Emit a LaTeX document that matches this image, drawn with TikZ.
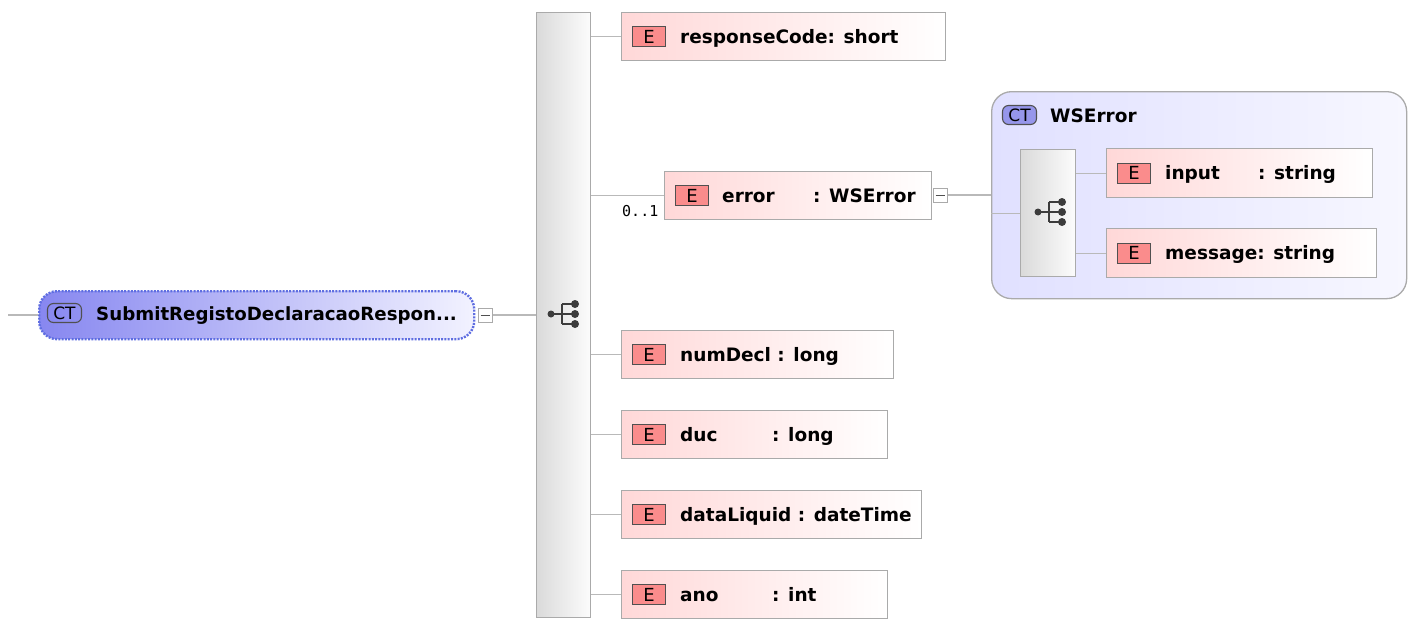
\documentclass[tikz,border=0pt]{standalone}
\usepackage{fontspec}
\setmainfont{DejaVu Sans}
\newfontfamily\monofont{DejaVu Sans Mono}

\definecolor{linegray}{RGB}{185,185,185}
\definecolor{boxgray}{RGB}{170,170,170}
\definecolor{pinkL}{RGB}{255,216,216}
\definecolor{iconred}{RGB}{250,140,140}
\definecolor{icondark}{RGB}{80,80,80}
\definecolor{rootL}{RGB}{135,135,240}
\definecolor{rootR}{RGB}{242,242,255}
\definecolor{rootedge}{RGB}{95,110,225}
\definecolor{ctL}{RGB}{224,224,255}
\definecolor{ctR}{RGB}{247,247,255}
\definecolor{ctblue}{RGB}{150,150,235}
\definecolor{seqL}{RGB}{218,218,218}
\definecolor{seqR}{RGB}{252,252,252}
\definecolor{dotgray}{RGB}{60,60,60}

\tikzset{
  conn/.style={draw=linegray, line width=1.2pt},
  elbox/.style={draw=boxgray, line width=1.3pt, left color=pinkL, right color=white,
                anchor=north west, inner sep=0, minimum height=48pt},
  eicon/.style={draw=icondark, fill=iconred, line width=1pt, minimum width=33pt,
                minimum height=20pt, inner sep=0, anchor=west, font=\fontsize{18}{18}\selectfont},
  lbl/.style={anchor=base west, inner sep=0, font=\fontsize{18.5}{20}\selectfont\bfseries},
  seqbar/.style={draw=boxgray, line width=1.3pt, left color=seqL, right color=seqR,
                 anchor=north west, inner sep=0},
  minusbox/.style={draw=boxgray, line width=1pt, fill=white, minimum size=14pt, inner sep=0},
  cticon/.style={rectangle, rounded corners=6pt, draw=icondark, line width=1.1pt,
                 minimum width=34pt, minimum height=19pt, inner sep=0,
                 font=\fontsize{17}{17}\selectfont},
  card/.style={font=\monofont\fontsize{15}{15}\selectfont, anchor=base west, inner sep=0}
}

% sequence compositor glyph round a named coordinate:
% one dot joined to a bracket holding three dots
\newcommand\seqglyph[1]{%
  \draw[dotgray, line width=1.4pt] ([xshift=-12pt]#1) -- ([xshift=-1pt]#1)
    ([xshift=-1pt,yshift=10pt]#1) -- ([xshift=-1pt,yshift=-10pt]#1)
    ([xshift=-1pt,yshift=10pt]#1) -- ([xshift=12pt,yshift=10pt]#1)
    ([xshift=-1pt,yshift=-10pt]#1) -- ([xshift=12pt,yshift=-10pt]#1)
    (#1) -- ([xshift=12pt]#1);
  \fill[dotgray] ([xshift=-12pt]#1) circle (3.5pt)
    ([xshift=12pt,yshift=10pt]#1) circle (4pt)
    ([xshift=12pt]#1) circle (4pt)
    ([xshift=12pt,yshift=-10pt]#1) circle (4pt);
}
\newcommand\minusmark[1]{%
  \draw[icondark, line width=0.8pt] ([xshift=3pt]#1.west) -- ([xshift=-3pt]#1.east);
}

\begin{document}
\begin{tikzpicture}[x=1pt, y=-1pt]
\useasboundingbox (0,0) rectangle (1410,619);

% ---- root complex type ----
\node[draw=rootedge, line width=2.4pt, dash pattern=on 2pt off 1.3pt,
      left color=rootL, right color=rootR, rounded corners=18pt,
      minimum width=435pt, minimum height=48pt, anchor=north west, inner sep=0]
      (root) at (38,290) {};
\coordinate (inlet) at (8,315);
\draw[conn] (inlet) -- (inlet -| root.west);
\node[cticon] (rootct) at (64.5,313) {CT};
\node[lbl, font=\fontsize{18.2}{20}\selectfont\bfseries] (roottxt) at (96,320) {SubmitRegistoDeclaracaoRespon...};
\node[minusbox] (rootmin) at (485,315) {};
\minusmark{rootmin}

% ---- sequence compositor ----
\node[seqbar, minimum width=54pt, minimum height=605pt] (seq) at (536,12) {};
\coordinate (seqg) at (563,314);
\seqglyph{seqg}
\draw[conn] (rootmin.east) -- (rootmin.east -| seq.west);

% ---- child elements ----
\node[elbox, minimum width=324pt] (rc) at (621,12) {};
\node[eicon] (rce) at ([xshift=11pt]rc.west) {E};
\node[lbl] (rct) at ([xshift=59pt,yshift=-6.5pt]rc.west) {responseCode: short};

\node[elbox, minimum width=267pt] (err) at (664,171) {};
\node[eicon] (erre) at ([xshift=11pt]err.west) {E};
\node[lbl] (errt) at ([xshift=58pt,yshift=-6.5pt]err.west) {error};
\node[lbl] (errty) at ([xshift=149pt,yshift=-6.5pt]err.west) {: WSError};
\node[card] (errcard) at (622,216) {0..1};
\node[minusbox] (errmin) at (940,195) {};
\minusmark{errmin}

\node[elbox, minimum width=272pt] (nd) at (621,330) {};
\node[eicon] (nde) at ([xshift=11pt]nd.west) {E};
\node[lbl] (ndt) at ([xshift=59pt,yshift=-6.5pt]nd.west) {numDecl : long};

\node[elbox, minimum width=266pt] (duc) at (621,410) {};
\node[eicon] (duce) at ([xshift=11pt]duc.west) {E};
\node[lbl] (duct) at ([xshift=59pt,yshift=-6.5pt]duc.west) {duc};
\node[lbl] (ducty) at ([xshift=151pt,yshift=-6.5pt]duc.west) {: long};

\node[elbox, minimum width=300pt] (dl) at (621,490) {};
\node[eicon] (dle) at ([xshift=11pt]dl.west) {E};
\node[lbl] (dlt) at ([xshift=59pt,yshift=-6.5pt]dl.west) {dataLiquid : dateTime};

\node[elbox, minimum width=266pt] (ano) at (621,570) {};
\node[eicon] (anoe) at ([xshift=11pt]ano.west) {E};
\node[lbl] (anot) at ([xshift=59pt,yshift=-6.5pt]ano.west) {ano};
\node[lbl] (anoty) at ([xshift=151pt,yshift=-6.5pt]ano.west) {: int};

\foreach \n in {rc,err,nd,duc,dl,ano}
  \draw[conn] (seq.east |- \n.west) -- (\n.west);

% ---- WSError complex type ----
\node[draw=boxgray, line width=1.3pt, left color=ctL, right color=ctR,
      rounded corners=20pt, minimum width=415pt, minimum height=207pt,
      anchor=north west, inner sep=0] (ws) at (991,91) {};
\node[cticon, fill=ctblue] (wsct) at (1019.5,115) {CT};
\node[lbl] (wst) at (1050,122) {WSError};
\draw[conn] (errmin.east) -- (errmin.east -| ws.west);

\node[seqbar, minimum width=55pt, minimum height=127pt] (wsseq) at (1020,149) {};
\coordinate (wsg) at (1050,212);
\seqglyph{wsg}
\draw[conn] (ws.west |- wsseq.west) -- (wsseq.west);

\node[elbox, minimum width=266pt, minimum height=49pt] (inp) at (1106,148) {};
\node[eicon] (inpe) at ([xshift=11pt]inp.west) {E};
\node[lbl] (inpt) at ([xshift=59pt,yshift=-6.5pt]inp.west) {input};
\node[lbl] (inpty) at ([xshift=152pt,yshift=-6.5pt]inp.west) {: string};

\node[elbox, minimum width=270pt, minimum height=49pt] (msg) at (1106,228) {};
\node[eicon] (msge) at ([xshift=11pt]msg.west) {E};
\node[lbl] (msgt) at ([xshift=59pt,yshift=-6.5pt]msg.west) {message: string};

\foreach \n in {inp,msg}
  \draw[conn] (wsseq.east |- \n.west) -- (\n.west);
\end{tikzpicture}
\end{document}
